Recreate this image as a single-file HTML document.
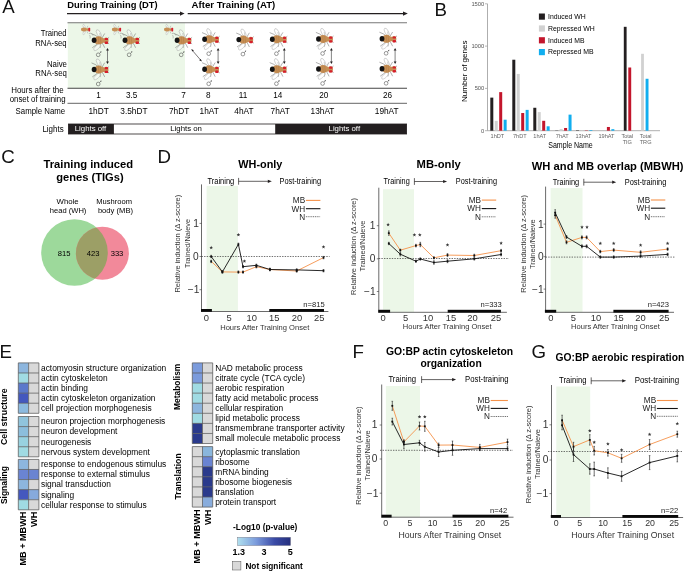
<!DOCTYPE html><html><head><meta charset="utf-8"><style>html,body{margin:0;padding:0;background:#fff}body{width:685px;height:571px;overflow:hidden}svg{display:block;will-change:transform}text{font-family:"Liberation Sans",sans-serif}</style></head><body>
<svg width="685" height="571" viewBox="0 0 685 571">
<defs>
<g id="fly">
  <g stroke="#3a3a3a" stroke-width="0.4" fill="none">
    <path d="M4,-3 L1.2,-5.0 L-2.6,-6.6"/><path d="M8,-2.4 L9.5,-5.0 L10.6,-6.8"/>
    <path d="M4,3 L1.2,5.3 L-1.8,7.4"/><path d="M8,2.6 L9.5,5.2 L10.6,7.4"/>
    <path d="M6.2,-3.4 L5.6,-7.2"/><path d="M6.2,3.6 L6.0,7.6"/>
    <path d="M13.6,-1.8 L15.0,-3.0"/><path d="M13.6,2.4 L15.0,3.6"/>
  </g>
  <ellipse cx="4.75" cy="-6.75" rx="4.3" ry="1.8" transform="rotate(-118 4.75 -6.75)" fill="#fff" fill-opacity="0.4" stroke="#9a9a9a" stroke-width="0.4"/>
  <ellipse cx="3.2" cy="6.9" rx="4.5" ry="1.8" transform="rotate(138 3.2 6.9)" fill="#fff" fill-opacity="0.4" stroke="#9a9a9a" stroke-width="0.4"/>
  <ellipse cx="4.6" cy="0" rx="4.6" ry="4.0" fill="#c68f55"/>
  <ellipse cx="8.6" cy="0.2" rx="2.3" ry="2.6" fill="#c68f55"/>
  <ellipse cx="12.0" cy="0.3" rx="2.4" ry="3.1" fill="#c68f55"/>
  <path d="M4.2,-3.6 L4.8,3.6 M6.2,-3.2 L6.8,3.2" stroke="#a87038" stroke-width="0.5" opacity="0.7"/>
  <rect x="10.6" y="-2.4" width="3.4" height="2.2" rx="0.9" fill="#d61f2c"/>
  <rect x="10.6" y="1.2" width="3.4" height="2.4" rx="0.9" fill="#d61f2c"/>
  <ellipse cx="0" cy="0" rx="2.4" ry="2.7" fill="#141414"/>
  <g stroke="#4a4a4a" stroke-width="0.55" fill="none">
    <circle cx="4.1" cy="14.5" r="1.85"/><path d="M5.4,13.1 L6.8,11.7"/>
  </g>
  <path d="M7.4,11.0 L5.9,11.4 L7.0,12.5 Z" fill="#4a4a4a"/>
</g>
<path id="star" d="M0.00,-1.70 L0.50,-0.49 L1.81,-0.39 L0.81,0.46 L1.12,1.74 L0.00,1.05 L-1.12,1.74 L-0.81,0.46 L-1.81,-0.39 L-0.50,-0.49 Z" fill="#3a3a3a"/>
<g id="ffly">
  <path d="M-5.2,-6.6 C-3.8,-7.8 -2.1,-6.9 -1.0,-4.6 M-4.6,-5.4 C-4.0,-4.2 -3.7,-3.2 -4.1,-1.9" stroke="#777" stroke-width="0.45" fill="none"/>
  <g stroke="#666" stroke-width="0.3" fill="none">
    <path d="M-9,-12.2 L-11,-14.2 M-7.2,-12.3 L-6.2,-14.5 M-9,-9.3 L-11,-7.6 M-7.2,-9.2 L-6.2,-6.8"/>
  </g>
  <ellipse cx="-10" cy="-13.8" rx="2.2" ry="0.9" transform="rotate(-110 -10 -13.8)" fill="#fff" fill-opacity="0.75" stroke="#999" stroke-width="0.3"/>
  <ellipse cx="-10" cy="-7.6" rx="2.2" ry="0.9" transform="rotate(110 -10 -7.6)" fill="#fff" fill-opacity="0.75" stroke="#999" stroke-width="0.3"/>
  <ellipse cx="-10.1" cy="-10.8" rx="3.0" ry="1.9" fill="#c68f55"/>
  <ellipse cx="-6.5" cy="-10.7" rx="1.3" ry="1.3" fill="#c68f55"/>
  <rect x="-5.8" y="-12.5" width="1.9" height="3.6" rx="0.6" fill="#d61f2c"/>
</g>
</defs>
<rect width="685" height="571" fill="#fff"/>
<text x="2.26" y="12.80" font-size="18.7" fill="#111">A</text>
<text x="67.20" y="7.80" font-size="9.5" font-weight="bold" textLength="90.50" lengthAdjust="spacingAndGlyphs">During Training (DT)</text>
<text x="191.60" y="7.80" font-size="9.5" font-weight="bold" textLength="83.70" lengthAdjust="spacingAndGlyphs">After Training (AT)</text>
<line x1="67.00" y1="13.60" x2="181.00" y2="13.60" stroke="#231f20" stroke-width="1.3"/>
<path d="M180,11.4 L184.6,13.6 L180,15.8 Z" fill="#231f20"/>
<line x1="187.70" y1="13.60" x2="404.00" y2="13.60" stroke="#231f20" stroke-width="1.3"/>
<path d="M403,11.4 L407.8,13.6 L403,15.8 Z" fill="#231f20"/>
<rect x="67.80" y="22.50" width="117.20" height="65.70" fill="#ecf7e8"/>
<line x1="67.50" y1="22.80" x2="407.00" y2="22.80" stroke="#777" stroke-width="1.1"/>
<line x1="67.50" y1="88.30" x2="407.00" y2="88.30" stroke="#444" stroke-width="1.1"/>
<line x1="67.50" y1="103.30" x2="407.00" y2="103.30" stroke="#666" stroke-width="1"/>
<text x="40.80" y="36.00" font-size="8.3" textLength="25.80" lengthAdjust="spacingAndGlyphs">Trained</text>
<text x="35.30" y="45.60" font-size="8.3" textLength="31.30" lengthAdjust="spacingAndGlyphs">RNA-seq</text>
<text x="46.90" y="66.90" font-size="8.3" textLength="20.00" lengthAdjust="spacingAndGlyphs">Naive</text>
<text x="35.30" y="76.10" font-size="8.3" textLength="31.60" lengthAdjust="spacingAndGlyphs">RNA-seq</text>
<text x="11.20" y="92.50" font-size="8.3" textLength="52.50" lengthAdjust="spacingAndGlyphs">Hours after the</text>
<text x="9.70" y="101.50" font-size="8.3" textLength="55.90" lengthAdjust="spacingAndGlyphs">onset of training</text>
<text x="15.60" y="114.30" font-size="8.3" textLength="49.60" lengthAdjust="spacingAndGlyphs">Sample Name</text>
<text x="42.40" y="131.70" font-size="8.3" textLength="21.30" lengthAdjust="spacingAndGlyphs">Lights</text>
<text x="98.60" y="97.60" font-size="8.2" text-anchor="middle">1</text>
<text x="131.70" y="97.60" font-size="8.2" text-anchor="middle">3.5</text>
<text x="183.50" y="97.60" font-size="8.2" text-anchor="middle">7</text>
<text x="208.40" y="97.60" font-size="8.2" text-anchor="middle">8</text>
<text x="243.10" y="97.60" font-size="8.2" text-anchor="middle">11</text>
<text x="277.80" y="97.60" font-size="8.2" text-anchor="middle">14</text>
<text x="323.80" y="97.60" font-size="8.2" text-anchor="middle">20</text>
<text x="387.60" y="97.60" font-size="8.2" text-anchor="middle">26</text>
<text x="98.65" y="114.00" font-size="8.3" text-anchor="middle">1hDT</text>
<text x="133.95" y="114.00" font-size="8.3" text-anchor="middle">3.5hDT</text>
<text x="179.15" y="114.00" font-size="8.3" text-anchor="middle">7hDT</text>
<text x="209.15" y="114.00" font-size="8.3" text-anchor="middle">1hAT</text>
<text x="243.90" y="114.00" font-size="8.3" text-anchor="middle">4hAT</text>
<text x="280.20" y="114.00" font-size="8.3" text-anchor="middle">7hAT</text>
<text x="322.50" y="114.00" font-size="8.3" text-anchor="middle">13hAT</text>
<text x="386.70" y="114.00" font-size="8.3" text-anchor="middle">19hAT</text>
<rect x="68.40" y="124.00" width="338.20" height="10.00" fill="#fff" stroke="#231f20" stroke-width="0.8"/>
<rect x="68.40" y="124.00" width="45.50" height="10.00" fill="#231f20"/>
<rect x="275.20" y="124.00" width="131.40" height="10.00" fill="#231f20"/>
<text x="90.50" y="130.70" font-size="7.8" fill="#fff" text-anchor="middle">Lights off</text>
<text x="186.10" y="130.70" font-size="7.8" text-anchor="middle">Lights on</text>
<text x="344.30" y="130.70" font-size="7.8" fill="#fff" text-anchor="middle">Lights off</text>
<use href="#fly" x="94.10" y="40.30"/>
<use href="#fly" x="125.00" y="40.30"/>
<use href="#fly" x="177.10" y="40.30"/>
<use href="#fly" x="204.60" y="39.20"/>
<use href="#fly" x="238.80" y="39.60"/>
<use href="#fly" x="272.30" y="39.20"/>
<use href="#fly" x="318.50" y="39.00"/>
<use href="#fly" x="382.00" y="38.80"/>
<use href="#fly" x="94.10" y="69.50"/>
<use href="#fly" x="204.60" y="69.30"/>
<use href="#fly" x="272.30" y="69.20"/>
<use href="#fly" x="318.50" y="69.00"/>
<use href="#fly" x="382.00" y="68.80"/>
<use href="#ffly" x="94.10" y="40.30"/>
<use href="#ffly" x="125.00" y="40.30"/>
<use href="#ffly" x="177.10" y="40.30"/>
<line x1="107.50" y1="50.00" x2="107.50" y2="62.00" stroke="#666" stroke-width="0.8"/>
<path d="M106.10,50.6 L107.50,48 L108.90,50.6 Z M106.10,61.4 L107.50,64 L108.90,61.4 Z" fill="#231f20"/>
<line x1="218.10" y1="50.00" x2="218.10" y2="62.00" stroke="#666" stroke-width="0.8"/>
<path d="M216.70,50.6 L218.10,48 L219.50,50.6 Z M216.70,61.4 L218.10,64 L219.50,61.4 Z" fill="#231f20"/>
<line x1="284.30" y1="50.00" x2="284.30" y2="62.00" stroke="#666" stroke-width="0.8"/>
<path d="M282.90,50.6 L284.30,48 L285.70,50.6 Z M282.90,61.4 L284.30,64 L285.70,61.4 Z" fill="#231f20"/>
<line x1="331.40" y1="50.00" x2="331.40" y2="62.00" stroke="#666" stroke-width="0.8"/>
<path d="M330.00,50.6 L331.40,48 L332.80,50.6 Z M330.00,61.4 L331.40,64 L332.80,61.4 Z" fill="#231f20"/>
<line x1="395.10" y1="50.00" x2="395.10" y2="62.00" stroke="#666" stroke-width="0.8"/>
<path d="M393.70,50.6 L395.10,48 L396.50,50.6 Z M393.70,61.4 L395.10,64 L396.50,61.4 Z" fill="#231f20"/>
<line x1="192.00" y1="50.00" x2="201.00" y2="60.50" stroke="#231f20" stroke-width="0.6"/>
<path d="M191.2,49.0 L193.9,50.3 L192.4,51.6 Z M201.9,61.5 L199.2,60.2 L200.7,58.9 Z" fill="#231f20"/>
<text x="434.50" y="15.90" font-size="18.7" fill="#111">B</text>
<line x1="487.50" y1="3.80" x2="487.50" y2="130.70" stroke="#999" stroke-width="0.8"/>
<line x1="487.50" y1="130.70" x2="660.00" y2="130.70" stroke="#999" stroke-width="0.8"/>
<line x1="485.00" y1="130.70" x2="487.50" y2="130.70" stroke="#999" stroke-width="0.7"/>
<text x="484.30" y="132.70" font-size="5.8" fill="#555" text-anchor="end">0</text>
<line x1="485.00" y1="88.40" x2="487.50" y2="88.40" stroke="#999" stroke-width="0.7"/>
<text x="484.30" y="90.40" font-size="5.8" fill="#555" text-anchor="end">500</text>
<line x1="485.00" y1="46.10" x2="487.50" y2="46.10" stroke="#999" stroke-width="0.7"/>
<text x="484.30" y="48.10" font-size="5.8" fill="#555" text-anchor="end">1000</text>
<line x1="485.00" y1="3.80" x2="487.50" y2="3.80" stroke="#999" stroke-width="0.7"/>
<text x="484.30" y="5.80" font-size="5.8" fill="#555" text-anchor="end">1500</text>
<text transform="translate(466.60,71.30) rotate(-90)" font-size="8.0" text-anchor="middle" textLength="61.50" lengthAdjust="spacingAndGlyphs">Number of genes</text>
<rect x="490.30" y="97.62" width="3.00" height="33.08" fill="#231f20"/>
<rect x="494.75" y="120.89" width="3.00" height="9.81" fill="#d1d1d1"/>
<rect x="499.20" y="92.12" width="3.00" height="38.58" fill="#c3162c"/>
<rect x="503.65" y="119.70" width="3.00" height="11.00" fill="#11aeef"/>
<rect x="512.30" y="59.72" width="3.00" height="70.98" fill="#231f20"/>
<rect x="516.75" y="73.93" width="3.00" height="56.77" fill="#d1d1d1"/>
<rect x="521.20" y="113.02" width="3.00" height="17.68" fill="#c3162c"/>
<rect x="525.65" y="109.89" width="3.00" height="20.81" fill="#11aeef"/>
<rect x="533.30" y="107.77" width="3.00" height="22.93" fill="#231f20"/>
<rect x="537.75" y="112.09" width="3.00" height="18.61" fill="#d1d1d1"/>
<rect x="542.20" y="120.80" width="3.00" height="9.90" fill="#c3162c"/>
<rect x="546.65" y="126.30" width="3.00" height="4.40" fill="#11aeef"/>
<rect x="555.20" y="130.45" width="3.00" height="0.25" fill="#231f20"/>
<rect x="559.65" y="129.09" width="3.00" height="1.61" fill="#d1d1d1"/>
<rect x="564.10" y="127.99" width="3.00" height="2.71" fill="#c3162c"/>
<rect x="568.55" y="114.63" width="3.00" height="16.07" fill="#11aeef"/>
<rect x="576.00" y="130.28" width="3.00" height="0.42" fill="#231f20"/>
<rect x="580.45" y="130.28" width="3.00" height="0.42" fill="#d1d1d1"/>
<rect x="584.90" y="130.36" width="3.00" height="0.34" fill="#c3162c"/>
<rect x="589.35" y="130.02" width="3.00" height="0.68" fill="#11aeef"/>
<rect x="606.90" y="126.98" width="3.00" height="3.72" fill="#c3162c"/>
<rect x="611.35" y="129.18" width="3.00" height="1.52" fill="#11aeef"/>
<rect x="623.80" y="26.81" width="2.80" height="103.89" fill="#231f20"/>
<rect x="628.30" y="67.50" width="2.90" height="63.20" fill="#c3162c"/>
<rect x="641.10" y="53.80" width="2.80" height="76.90" fill="#d1d1d1"/>
<rect x="645.60" y="78.76" width="2.90" height="51.94" fill="#11aeef"/>
<text x="497.40" y="138.00" font-size="5.6" fill="#666" text-anchor="middle">1hDT</text>
<text x="519.80" y="138.00" font-size="5.6" fill="#666" text-anchor="middle">7hDT</text>
<text x="539.80" y="138.00" font-size="5.6" fill="#666" text-anchor="middle">1hAT</text>
<text x="562.30" y="138.00" font-size="5.6" fill="#666" text-anchor="middle">7hAT</text>
<text x="583.50" y="138.00" font-size="5.6" fill="#666" text-anchor="middle">13hAT</text>
<text x="606.50" y="138.00" font-size="5.6" fill="#666" text-anchor="middle">19hAT</text>
<text x="627.30" y="138.00" font-size="5.6" fill="#666" text-anchor="middle">Total</text>
<text x="627.30" y="143.60" font-size="5.6" fill="#666" text-anchor="middle">TIG</text>
<text x="645.60" y="138.00" font-size="5.6" fill="#666" text-anchor="middle">Total</text>
<text x="645.60" y="143.60" font-size="5.6" fill="#666" text-anchor="middle">TRG</text>
<text x="548.20" y="148.40" font-size="8.3" textLength="44.60" lengthAdjust="spacingAndGlyphs">Sample Name</text>
<rect x="538.90" y="13.50" width="6.00" height="6.20" fill="#231f20"/>
<text x="548.00" y="18.90" font-size="7.0" textLength="37.80" lengthAdjust="spacingAndGlyphs">Induced WH</text>
<rect x="538.90" y="25.40" width="6.00" height="6.20" fill="#d1d1d1"/>
<text x="548.00" y="30.80" font-size="7.0" textLength="46.80" lengthAdjust="spacingAndGlyphs">Repressed WH</text>
<rect x="538.90" y="37.20" width="6.00" height="6.20" fill="#c3162c"/>
<text x="548.00" y="42.60" font-size="7.0" textLength="36.50" lengthAdjust="spacingAndGlyphs">Induced MB</text>
<rect x="538.90" y="49.00" width="6.00" height="6.20" fill="#11aeef"/>
<text x="548.00" y="54.40" font-size="7.0" textLength="45.70" lengthAdjust="spacingAndGlyphs">Repressed MB</text>
<text x="1.15" y="162.90" font-size="18.7" fill="#111">C</text>
<text x="43.50" y="167.50" font-size="11.0" font-weight="bold" textLength="89.70" lengthAdjust="spacingAndGlyphs">Training induced</text>
<text x="56.20" y="181.40" font-size="11.0" font-weight="bold" textLength="67.40" lengthAdjust="spacingAndGlyphs">genes (TIGs)</text>
<text x="67.60" y="203.80" font-size="7.8" text-anchor="middle">Whole</text>
<text x="49.80" y="213.00" font-size="7.8" textLength="36.60" lengthAdjust="spacingAndGlyphs">head (WH)</text>
<text x="96.30" y="203.80" font-size="7.8" textLength="35.70" lengthAdjust="spacingAndGlyphs">Mushroom</text>
<text x="97.90" y="213.00" font-size="7.8" textLength="35.10" lengthAdjust="spacingAndGlyphs">body (MB)</text>
<circle cx="74.5" cy="252.5" r="33.3" fill="#9dd99b"/>
<circle cx="102.4" cy="253.2" r="26.5" fill="#f2899a"/>
<clipPath id="cg"><circle cx="74.5" cy="252.5" r="33.3"/></clipPath>
<circle cx="102.4" cy="253.2" r="26.5" fill="#9c9f66" clip-path="url(#cg)"/>
<text x="64.10" y="255.50" font-size="7.6" text-anchor="middle">815</text>
<text x="93.20" y="255.50" font-size="7.6" text-anchor="middle">423</text>
<text x="117.00" y="255.50" font-size="7.6" text-anchor="middle">333</text>
<text x="157.50" y="162.90" font-size="18.7" fill="#111">D</text>
<text x="352.50" y="358.10" font-size="18.7" fill="#111">F</text>
<text x="531.50" y="358.10" font-size="18.7" fill="#111">G</text>
<rect x="206.60" y="185.90" width="31.30" height="125.60" fill="#ecf7e8"/>
<text x="238.30" y="168.10" font-size="11.0" font-weight="bold" textLength="44.10" lengthAdjust="spacingAndGlyphs">WH-only</text>
<text x="207.40" y="183.90" font-size="8.6" textLength="26.90" lengthAdjust="spacingAndGlyphs">Training</text>
<line x1="238.60" y1="177.90" x2="238.60" y2="184.70" stroke="#231f20" stroke-width="0.7"/>
<line x1="238.60" y1="181.30" x2="268.80" y2="181.30" stroke="#231f20" stroke-width="0.7"/>
<path d="M267.80,179.70 L271.80,181.30 L267.80,182.90 Z" fill="#231f20"/>
<text x="279.50" y="183.90" font-size="8.6" textLength="41.60" lengthAdjust="spacingAndGlyphs">Post-training</text>
<line x1="201.50" y1="184.40" x2="201.50" y2="312.00" stroke="#6a6a6a" stroke-width="1.0"/>
<line x1="201.50" y1="311.50" x2="328.40" y2="311.50" stroke="#6a6a6a" stroke-width="1.0"/>
<rect x="201.00" y="309.00" width="10.90" height="2.80" fill="#0a0a0a"/>
<rect x="269.30" y="309.00" width="54.70" height="2.80" fill="#0a0a0a"/>
<text x="196.00" y="226.80" font-size="10.2" fill="#333" text-anchor="middle">1</text>
<text x="195.90" y="259.90" font-size="10.2" fill="#333" text-anchor="middle">0</text>
<text x="193.60" y="293.10" font-size="10.2" fill="#333" text-anchor="middle">−1</text>
<line x1="199.50" y1="223.40" x2="201.50" y2="223.40" stroke="#333" stroke-width="0.6"/>
<line x1="199.50" y1="256.50" x2="201.50" y2="256.50" stroke="#333" stroke-width="0.6"/>
<line x1="199.50" y1="289.70" x2="201.50" y2="289.70" stroke="#333" stroke-width="0.6"/>
<text transform="translate(180.30,243.70) rotate(-90)" font-size="7.4" fill="#333" text-anchor="middle" textLength="97.80" lengthAdjust="spacingAndGlyphs">Relative induction (Δ z-score)</text>
<text transform="translate(190.00,243.50) rotate(-90)" font-size="7.4" fill="#333" text-anchor="middle" textLength="49.00" lengthAdjust="spacingAndGlyphs">Trained/Naieve</text>
<text x="206.40" y="320.80" font-size="9.4" fill="#333" text-anchor="middle">0</text>
<text x="229.00" y="320.80" font-size="9.4" fill="#333" text-anchor="middle">5</text>
<text x="251.70" y="320.80" font-size="9.4" fill="#333" text-anchor="middle">10</text>
<text x="274.30" y="320.80" font-size="9.4" fill="#333" text-anchor="middle">15</text>
<text x="296.90" y="320.80" font-size="9.4" fill="#333" text-anchor="middle">20</text>
<text x="319.20" y="320.80" font-size="9.4" fill="#333" text-anchor="middle">25</text>
<text x="220.20" y="329.60" font-size="7.5" fill="#333" textLength="89.10" lengthAdjust="spacingAndGlyphs">Hours After Training Onset</text>
<text x="324.70" y="307.20" font-size="7.6" fill="#222" text-anchor="end">n=815</text>
<line x1="201.50" y1="256.50" x2="329.60" y2="256.50" stroke="#333" stroke-width="0.7" stroke-dasharray="1.4 1.2"/>
<text x="305.10" y="203.20" font-size="8.2" fill="#222" text-anchor="end">MB</text>
<line x1="305.90" y1="200.40" x2="320.40" y2="200.40" stroke="#f5924a" stroke-width="1.1"/>
<text x="305.10" y="211.50" font-size="8.2" fill="#222" text-anchor="end">WH</text>
<line x1="305.90" y1="208.70" x2="320.40" y2="208.70" stroke="#111" stroke-width="1.1"/>
<text x="305.10" y="219.50" font-size="8.2" fill="#222" text-anchor="end">N</text>
<line x1="305.90" y1="216.70" x2="320.40" y2="216.70" stroke="#222" stroke-width="0.7" stroke-dasharray="1 0.8"/>
<polyline points="211.20,261.40 222.40,271.90 238.40,272.10 243.00,272.10 256.40,266.70 269.90,269.50 296.70,271.00 323.50,257.60" fill="none" stroke="#f5924a" stroke-width="0.9"/>
<polyline points="211.20,256.50 222.40,271.90 238.40,244.30 243.00,266.70 256.40,265.30 269.90,269.50 296.70,269.90 323.50,270.70" fill="none" stroke="#111" stroke-width="0.9"/>
<line x1="211.20" y1="260.20" x2="211.20" y2="262.60" stroke="#111" stroke-width="0.6"/>
<line x1="210.40" y1="260.20" x2="212.00" y2="260.20" stroke="#111" stroke-width="0.5"/>
<line x1="210.40" y1="262.60" x2="212.00" y2="262.60" stroke="#111" stroke-width="0.5"/>
<rect x="210.30" y="260.50" width="1.80" height="1.80" fill="#111"/>
<line x1="222.40" y1="270.70" x2="222.40" y2="273.10" stroke="#111" stroke-width="0.6"/>
<line x1="221.60" y1="270.70" x2="223.20" y2="270.70" stroke="#111" stroke-width="0.5"/>
<line x1="221.60" y1="273.10" x2="223.20" y2="273.10" stroke="#111" stroke-width="0.5"/>
<rect x="221.50" y="271.00" width="1.80" height="1.80" fill="#111"/>
<line x1="238.40" y1="270.90" x2="238.40" y2="273.30" stroke="#111" stroke-width="0.6"/>
<line x1="237.60" y1="270.90" x2="239.20" y2="270.90" stroke="#111" stroke-width="0.5"/>
<line x1="237.60" y1="273.30" x2="239.20" y2="273.30" stroke="#111" stroke-width="0.5"/>
<rect x="237.50" y="271.20" width="1.80" height="1.80" fill="#111"/>
<line x1="243.00" y1="270.90" x2="243.00" y2="273.30" stroke="#111" stroke-width="0.6"/>
<line x1="242.20" y1="270.90" x2="243.80" y2="270.90" stroke="#111" stroke-width="0.5"/>
<line x1="242.20" y1="273.30" x2="243.80" y2="273.30" stroke="#111" stroke-width="0.5"/>
<rect x="242.10" y="271.20" width="1.80" height="1.80" fill="#111"/>
<line x1="256.40" y1="265.50" x2="256.40" y2="267.90" stroke="#111" stroke-width="0.6"/>
<line x1="255.60" y1="265.50" x2="257.20" y2="265.50" stroke="#111" stroke-width="0.5"/>
<line x1="255.60" y1="267.90" x2="257.20" y2="267.90" stroke="#111" stroke-width="0.5"/>
<rect x="255.50" y="265.80" width="1.80" height="1.80" fill="#111"/>
<line x1="269.90" y1="268.30" x2="269.90" y2="270.70" stroke="#111" stroke-width="0.6"/>
<line x1="269.10" y1="268.30" x2="270.70" y2="268.30" stroke="#111" stroke-width="0.5"/>
<line x1="269.10" y1="270.70" x2="270.70" y2="270.70" stroke="#111" stroke-width="0.5"/>
<rect x="269.00" y="268.60" width="1.80" height="1.80" fill="#111"/>
<line x1="296.70" y1="269.80" x2="296.70" y2="272.20" stroke="#111" stroke-width="0.6"/>
<line x1="295.90" y1="269.80" x2="297.50" y2="269.80" stroke="#111" stroke-width="0.5"/>
<line x1="295.90" y1="272.20" x2="297.50" y2="272.20" stroke="#111" stroke-width="0.5"/>
<rect x="295.80" y="270.10" width="1.80" height="1.80" fill="#111"/>
<line x1="323.50" y1="256.40" x2="323.50" y2="258.80" stroke="#111" stroke-width="0.6"/>
<line x1="322.70" y1="256.40" x2="324.30" y2="256.40" stroke="#111" stroke-width="0.5"/>
<line x1="322.70" y1="258.80" x2="324.30" y2="258.80" stroke="#111" stroke-width="0.5"/>
<rect x="322.60" y="256.70" width="1.80" height="1.80" fill="#111"/>
<line x1="211.20" y1="255.30" x2="211.20" y2="257.70" stroke="#111" stroke-width="0.6"/>
<line x1="210.40" y1="255.30" x2="212.00" y2="255.30" stroke="#111" stroke-width="0.5"/>
<line x1="210.40" y1="257.70" x2="212.00" y2="257.70" stroke="#111" stroke-width="0.5"/>
<rect x="210.30" y="255.60" width="1.80" height="1.80" fill="#111"/>
<line x1="222.40" y1="270.70" x2="222.40" y2="273.10" stroke="#111" stroke-width="0.6"/>
<line x1="221.60" y1="270.70" x2="223.20" y2="270.70" stroke="#111" stroke-width="0.5"/>
<line x1="221.60" y1="273.10" x2="223.20" y2="273.10" stroke="#111" stroke-width="0.5"/>
<rect x="221.50" y="271.00" width="1.80" height="1.80" fill="#111"/>
<line x1="238.40" y1="243.10" x2="238.40" y2="245.50" stroke="#111" stroke-width="0.6"/>
<line x1="237.60" y1="243.10" x2="239.20" y2="243.10" stroke="#111" stroke-width="0.5"/>
<line x1="237.60" y1="245.50" x2="239.20" y2="245.50" stroke="#111" stroke-width="0.5"/>
<rect x="237.50" y="243.40" width="1.80" height="1.80" fill="#111"/>
<line x1="243.00" y1="265.50" x2="243.00" y2="267.90" stroke="#111" stroke-width="0.6"/>
<line x1="242.20" y1="265.50" x2="243.80" y2="265.50" stroke="#111" stroke-width="0.5"/>
<line x1="242.20" y1="267.90" x2="243.80" y2="267.90" stroke="#111" stroke-width="0.5"/>
<rect x="242.10" y="265.80" width="1.80" height="1.80" fill="#111"/>
<line x1="256.40" y1="264.10" x2="256.40" y2="266.50" stroke="#111" stroke-width="0.6"/>
<line x1="255.60" y1="264.10" x2="257.20" y2="264.10" stroke="#111" stroke-width="0.5"/>
<line x1="255.60" y1="266.50" x2="257.20" y2="266.50" stroke="#111" stroke-width="0.5"/>
<rect x="255.50" y="264.40" width="1.80" height="1.80" fill="#111"/>
<line x1="269.90" y1="268.30" x2="269.90" y2="270.70" stroke="#111" stroke-width="0.6"/>
<line x1="269.10" y1="268.30" x2="270.70" y2="268.30" stroke="#111" stroke-width="0.5"/>
<line x1="269.10" y1="270.70" x2="270.70" y2="270.70" stroke="#111" stroke-width="0.5"/>
<rect x="269.00" y="268.60" width="1.80" height="1.80" fill="#111"/>
<line x1="296.70" y1="268.70" x2="296.70" y2="271.10" stroke="#111" stroke-width="0.6"/>
<line x1="295.90" y1="268.70" x2="297.50" y2="268.70" stroke="#111" stroke-width="0.5"/>
<line x1="295.90" y1="271.10" x2="297.50" y2="271.10" stroke="#111" stroke-width="0.5"/>
<rect x="295.80" y="269.00" width="1.80" height="1.80" fill="#111"/>
<line x1="323.50" y1="269.50" x2="323.50" y2="271.90" stroke="#111" stroke-width="0.6"/>
<line x1="322.70" y1="269.50" x2="324.30" y2="269.50" stroke="#111" stroke-width="0.5"/>
<line x1="322.70" y1="271.90" x2="324.30" y2="271.90" stroke="#111" stroke-width="0.5"/>
<rect x="322.60" y="269.80" width="1.80" height="1.80" fill="#111"/>
<use href="#star" x="211.20" y="247.40"/>
<use href="#star" x="238.40" y="234.60"/>
<use href="#star" x="244.40" y="261.00"/>
<use href="#star" x="323.50" y="246.80"/>
<rect x="383.00" y="189.20" width="31.00" height="123.10" fill="#ecf7e8"/>
<text x="416.60" y="168.00" font-size="11.0" font-weight="bold" textLength="44.20" lengthAdjust="spacingAndGlyphs">MB-only</text>
<text x="383.60" y="184.10" font-size="8.6" textLength="26.10" lengthAdjust="spacingAndGlyphs">Training</text>
<line x1="414.40" y1="178.10" x2="414.40" y2="184.90" stroke="#231f20" stroke-width="0.7"/>
<line x1="414.40" y1="181.50" x2="444.10" y2="181.50" stroke="#231f20" stroke-width="0.7"/>
<path d="M443.10,179.90 L447.10,181.50 L443.10,183.10 Z" fill="#231f20"/>
<text x="455.80" y="184.10" font-size="8.6" textLength="41.20" lengthAdjust="spacingAndGlyphs">Post-training</text>
<line x1="378.80" y1="187.70" x2="378.80" y2="312.80" stroke="#6a6a6a" stroke-width="1.0"/>
<line x1="378.80" y1="312.30" x2="506.90" y2="312.30" stroke="#6a6a6a" stroke-width="1.0"/>
<rect x="378.30" y="309.80" width="11.80" height="2.80" fill="#0a0a0a"/>
<rect x="447.70" y="309.80" width="53.20" height="2.80" fill="#0a0a0a"/>
<text x="372.70" y="229.10" font-size="10.2" fill="#333" text-anchor="middle">1</text>
<text x="372.70" y="262.20" font-size="10.2" fill="#333" text-anchor="middle">0</text>
<text x="369.90" y="294.90" font-size="10.2" fill="#333" text-anchor="middle">−1</text>
<line x1="376.80" y1="225.70" x2="378.80" y2="225.70" stroke="#333" stroke-width="0.6"/>
<line x1="376.80" y1="258.80" x2="378.80" y2="258.80" stroke="#333" stroke-width="0.6"/>
<line x1="376.80" y1="291.50" x2="378.80" y2="291.50" stroke="#333" stroke-width="0.6"/>
<text transform="translate(355.90,246.50) rotate(-90)" font-size="7.4" fill="#333" text-anchor="middle" textLength="97.00" lengthAdjust="spacingAndGlyphs">Relative induction (Δ z-score)</text>
<text transform="translate(365.30,246.00) rotate(-90)" font-size="7.4" fill="#333" text-anchor="middle" textLength="50.90" lengthAdjust="spacingAndGlyphs">Trained/Naieve</text>
<text x="383.10" y="320.90" font-size="9.4" fill="#333" text-anchor="middle">0</text>
<text x="405.70" y="320.90" font-size="9.4" fill="#333" text-anchor="middle">5</text>
<text x="428.00" y="320.90" font-size="9.4" fill="#333" text-anchor="middle">10</text>
<text x="451.00" y="320.90" font-size="9.4" fill="#333" text-anchor="middle">15</text>
<text x="472.50" y="320.90" font-size="9.4" fill="#333" text-anchor="middle">20</text>
<text x="495.90" y="320.90" font-size="9.4" fill="#333" text-anchor="middle">25</text>
<text x="402.80" y="329.30" font-size="7.5" fill="#333" textLength="88.70" lengthAdjust="spacingAndGlyphs">Hours After Training Onset</text>
<text x="501.80" y="307.40" font-size="7.6" fill="#222" text-anchor="end">n=333</text>
<line x1="378.80" y1="258.50" x2="509.00" y2="258.50" stroke="#333" stroke-width="0.7" stroke-dasharray="1.4 1.2"/>
<text x="481.00" y="202.90" font-size="8.2" fill="#222" text-anchor="end">MB</text>
<line x1="481.80" y1="200.10" x2="496.20" y2="200.10" stroke="#f5924a" stroke-width="1.1"/>
<text x="481.00" y="211.40" font-size="8.2" fill="#222" text-anchor="end">WH</text>
<line x1="481.80" y1="208.60" x2="496.20" y2="208.60" stroke="#111" stroke-width="1.1"/>
<text x="481.00" y="219.60" font-size="8.2" fill="#222" text-anchor="end">N</text>
<line x1="481.80" y1="216.80" x2="496.20" y2="216.80" stroke="#222" stroke-width="0.7" stroke-dasharray="1 0.8"/>
<polyline points="388.80,233.10 400.30,250.20 415.90,245.60 420.30,244.50 433.90,257.80 447.50,255.10 474.30,255.50 501.10,250.70" fill="none" stroke="#f5924a" stroke-width="0.9"/>
<polyline points="388.80,243.50 400.30,254.20 415.90,261.20 420.30,259.00 433.90,262.50 447.50,261.20 474.30,258.80 501.10,254.50" fill="none" stroke="#111" stroke-width="0.9"/>
<line x1="388.80" y1="230.90" x2="388.80" y2="235.30" stroke="#111" stroke-width="0.6"/>
<line x1="388.00" y1="230.90" x2="389.60" y2="230.90" stroke="#111" stroke-width="0.5"/>
<line x1="388.00" y1="235.30" x2="389.60" y2="235.30" stroke="#111" stroke-width="0.5"/>
<rect x="387.90" y="232.20" width="1.80" height="1.80" fill="#111"/>
<line x1="400.30" y1="249.10" x2="400.30" y2="251.30" stroke="#111" stroke-width="0.6"/>
<line x1="399.50" y1="249.10" x2="401.10" y2="249.10" stroke="#111" stroke-width="0.5"/>
<line x1="399.50" y1="251.30" x2="401.10" y2="251.30" stroke="#111" stroke-width="0.5"/>
<rect x="399.40" y="249.30" width="1.80" height="1.80" fill="#111"/>
<line x1="415.90" y1="244.30" x2="415.90" y2="246.90" stroke="#111" stroke-width="0.6"/>
<line x1="415.10" y1="244.30" x2="416.70" y2="244.30" stroke="#111" stroke-width="0.5"/>
<line x1="415.10" y1="246.90" x2="416.70" y2="246.90" stroke="#111" stroke-width="0.5"/>
<rect x="415.00" y="244.70" width="1.80" height="1.80" fill="#111"/>
<line x1="420.30" y1="242.30" x2="420.30" y2="246.70" stroke="#111" stroke-width="0.6"/>
<line x1="419.50" y1="242.30" x2="421.10" y2="242.30" stroke="#111" stroke-width="0.5"/>
<line x1="419.50" y1="246.70" x2="421.10" y2="246.70" stroke="#111" stroke-width="0.5"/>
<rect x="419.40" y="243.60" width="1.80" height="1.80" fill="#111"/>
<line x1="433.90" y1="256.70" x2="433.90" y2="258.90" stroke="#111" stroke-width="0.6"/>
<line x1="433.10" y1="256.70" x2="434.70" y2="256.70" stroke="#111" stroke-width="0.5"/>
<line x1="433.10" y1="258.90" x2="434.70" y2="258.90" stroke="#111" stroke-width="0.5"/>
<rect x="433.00" y="256.90" width="1.80" height="1.80" fill="#111"/>
<line x1="447.50" y1="253.60" x2="447.50" y2="256.60" stroke="#111" stroke-width="0.6"/>
<line x1="446.70" y1="253.60" x2="448.30" y2="253.60" stroke="#111" stroke-width="0.5"/>
<line x1="446.70" y1="256.60" x2="448.30" y2="256.60" stroke="#111" stroke-width="0.5"/>
<rect x="446.60" y="254.20" width="1.80" height="1.80" fill="#111"/>
<line x1="474.30" y1="254.20" x2="474.30" y2="256.80" stroke="#111" stroke-width="0.6"/>
<line x1="473.50" y1="254.20" x2="475.10" y2="254.20" stroke="#111" stroke-width="0.5"/>
<line x1="473.50" y1="256.80" x2="475.10" y2="256.80" stroke="#111" stroke-width="0.5"/>
<rect x="473.40" y="254.60" width="1.80" height="1.80" fill="#111"/>
<line x1="501.10" y1="249.40" x2="501.10" y2="252.00" stroke="#111" stroke-width="0.6"/>
<line x1="500.30" y1="249.40" x2="501.90" y2="249.40" stroke="#111" stroke-width="0.5"/>
<line x1="500.30" y1="252.00" x2="501.90" y2="252.00" stroke="#111" stroke-width="0.5"/>
<rect x="500.20" y="249.80" width="1.80" height="1.80" fill="#111"/>
<line x1="388.80" y1="242.30" x2="388.80" y2="244.70" stroke="#111" stroke-width="0.6"/>
<line x1="388.00" y1="242.30" x2="389.60" y2="242.30" stroke="#111" stroke-width="0.5"/>
<line x1="388.00" y1="244.70" x2="389.60" y2="244.70" stroke="#111" stroke-width="0.5"/>
<rect x="387.90" y="242.60" width="1.80" height="1.80" fill="#111"/>
<line x1="400.30" y1="252.45" x2="400.30" y2="255.95" stroke="#111" stroke-width="0.6"/>
<line x1="399.50" y1="252.45" x2="401.10" y2="252.45" stroke="#111" stroke-width="0.5"/>
<line x1="399.50" y1="255.95" x2="401.10" y2="255.95" stroke="#111" stroke-width="0.5"/>
<rect x="399.40" y="253.30" width="1.80" height="1.80" fill="#111"/>
<line x1="415.90" y1="260.00" x2="415.90" y2="262.40" stroke="#111" stroke-width="0.6"/>
<line x1="415.10" y1="260.00" x2="416.70" y2="260.00" stroke="#111" stroke-width="0.5"/>
<line x1="415.10" y1="262.40" x2="416.70" y2="262.40" stroke="#111" stroke-width="0.5"/>
<rect x="415.00" y="260.30" width="1.80" height="1.80" fill="#111"/>
<line x1="420.30" y1="257.80" x2="420.30" y2="260.20" stroke="#111" stroke-width="0.6"/>
<line x1="419.50" y1="257.80" x2="421.10" y2="257.80" stroke="#111" stroke-width="0.5"/>
<line x1="419.50" y1="260.20" x2="421.10" y2="260.20" stroke="#111" stroke-width="0.5"/>
<rect x="419.40" y="258.10" width="1.80" height="1.80" fill="#111"/>
<line x1="433.90" y1="260.75" x2="433.90" y2="264.25" stroke="#111" stroke-width="0.6"/>
<line x1="433.10" y1="260.75" x2="434.70" y2="260.75" stroke="#111" stroke-width="0.5"/>
<line x1="433.10" y1="264.25" x2="434.70" y2="264.25" stroke="#111" stroke-width="0.5"/>
<rect x="433.00" y="261.60" width="1.80" height="1.80" fill="#111"/>
<line x1="447.50" y1="259.70" x2="447.50" y2="262.70" stroke="#111" stroke-width="0.6"/>
<line x1="446.70" y1="259.70" x2="448.30" y2="259.70" stroke="#111" stroke-width="0.5"/>
<line x1="446.70" y1="262.70" x2="448.30" y2="262.70" stroke="#111" stroke-width="0.5"/>
<rect x="446.60" y="260.30" width="1.80" height="1.80" fill="#111"/>
<line x1="474.30" y1="257.50" x2="474.30" y2="260.10" stroke="#111" stroke-width="0.6"/>
<line x1="473.50" y1="257.50" x2="475.10" y2="257.50" stroke="#111" stroke-width="0.5"/>
<line x1="473.50" y1="260.10" x2="475.10" y2="260.10" stroke="#111" stroke-width="0.5"/>
<rect x="473.40" y="257.90" width="1.80" height="1.80" fill="#111"/>
<line x1="501.10" y1="253.20" x2="501.10" y2="255.80" stroke="#111" stroke-width="0.6"/>
<line x1="500.30" y1="253.20" x2="501.90" y2="253.20" stroke="#111" stroke-width="0.5"/>
<line x1="500.30" y1="255.80" x2="501.90" y2="255.80" stroke="#111" stroke-width="0.5"/>
<rect x="500.20" y="253.60" width="1.80" height="1.80" fill="#111"/>
<use href="#star" x="388.10" y="224.40"/>
<use href="#star" x="414.40" y="234.70"/>
<use href="#star" x="419.80" y="234.70"/>
<use href="#star" x="447.50" y="244.80"/>
<use href="#star" x="501.10" y="242.90"/>
<rect x="550.60" y="188.10" width="31.90" height="124.20" fill="#ecf7e8"/>
<text x="531.80" y="170.00" font-size="11.0" font-weight="bold" textLength="151.80" lengthAdjust="spacingAndGlyphs">WH and MB overlap (MBWH)</text>
<text x="552.70" y="184.80" font-size="8.6" textLength="26.50" lengthAdjust="spacingAndGlyphs">Training</text>
<line x1="583.80" y1="178.80" x2="583.80" y2="185.60" stroke="#231f20" stroke-width="0.7"/>
<line x1="583.80" y1="182.20" x2="613.20" y2="182.20" stroke="#231f20" stroke-width="0.7"/>
<path d="M612.20,180.60 L616.20,182.20 L612.20,183.80 Z" fill="#231f20"/>
<text x="624.70" y="184.80" font-size="8.6" textLength="41.70" lengthAdjust="spacingAndGlyphs">Post-training</text>
<line x1="545.60" y1="186.60" x2="545.60" y2="312.80" stroke="#6a6a6a" stroke-width="1.0"/>
<line x1="545.60" y1="312.30" x2="674.00" y2="312.30" stroke="#6a6a6a" stroke-width="1.0"/>
<rect x="544.90" y="309.80" width="11.30" height="2.80" fill="#0a0a0a"/>
<rect x="613.40" y="309.80" width="55.20" height="2.80" fill="#0a0a0a"/>
<text x="540.80" y="227.50" font-size="10.2" fill="#333" text-anchor="middle">1</text>
<text x="540.80" y="260.10" font-size="10.2" fill="#333" text-anchor="middle">0</text>
<text x="537.90" y="292.50" font-size="10.2" fill="#333" text-anchor="middle">−1</text>
<line x1="543.60" y1="224.10" x2="545.60" y2="224.10" stroke="#333" stroke-width="0.6"/>
<line x1="543.60" y1="256.70" x2="545.60" y2="256.70" stroke="#333" stroke-width="0.6"/>
<line x1="543.60" y1="289.10" x2="545.60" y2="289.10" stroke="#333" stroke-width="0.6"/>
<text transform="translate(525.60,243.80) rotate(-90)" font-size="7.4" fill="#333" text-anchor="middle" textLength="97.80" lengthAdjust="spacingAndGlyphs">Relative induction (Δ z-score)</text>
<text transform="translate(535.00,244.20) rotate(-90)" font-size="7.4" fill="#333" text-anchor="middle" textLength="49.70" lengthAdjust="spacingAndGlyphs">Trained/Naieve</text>
<text x="550.80" y="321.10" font-size="9.4" fill="#333" text-anchor="middle">0</text>
<text x="573.30" y="321.10" font-size="9.4" fill="#333" text-anchor="middle">5</text>
<text x="595.90" y="321.10" font-size="9.4" fill="#333" text-anchor="middle">10</text>
<text x="618.60" y="321.10" font-size="9.4" fill="#333" text-anchor="middle">15</text>
<text x="640.50" y="321.10" font-size="9.4" fill="#333" text-anchor="middle">20</text>
<text x="664.20" y="321.10" font-size="9.4" fill="#333" text-anchor="middle">25</text>
<text x="571.10" y="329.30" font-size="7.5" fill="#333" textLength="88.70" lengthAdjust="spacingAndGlyphs">Hours After Training Onset</text>
<text x="669.00" y="307.40" font-size="7.6" fill="#222" text-anchor="end">n=423</text>
<line x1="545.60" y1="257.10" x2="674.80" y2="257.10" stroke="#333" stroke-width="0.7" stroke-dasharray="1.4 1.2"/>
<text x="650.10" y="202.80" font-size="8.2" fill="#222" text-anchor="end">MB</text>
<line x1="650.90" y1="200.00" x2="665.30" y2="200.00" stroke="#f5924a" stroke-width="1.1"/>
<text x="650.10" y="211.00" font-size="8.2" fill="#222" text-anchor="end">WH</text>
<line x1="650.90" y1="208.20" x2="665.30" y2="208.20" stroke="#111" stroke-width="1.1"/>
<text x="650.10" y="219.50" font-size="8.2" fill="#222" text-anchor="end">N</text>
<line x1="650.90" y1="216.70" x2="665.30" y2="216.70" stroke="#222" stroke-width="0.7" stroke-dasharray="1 0.8"/>
<polyline points="555.20,215.20 566.50,242.30 581.90,237.40 586.60,237.40 600.30,251.60 613.70,250.10 640.60,252.30 667.60,249.10" fill="none" stroke="#f5924a" stroke-width="0.9"/>
<polyline points="555.20,212.70 566.50,237.00 581.90,246.30 586.60,246.30 600.30,257.10 613.70,257.10 640.60,256.10 667.60,254.40" fill="none" stroke="#111" stroke-width="0.9"/>
<line x1="555.20" y1="212.20" x2="555.20" y2="218.20" stroke="#111" stroke-width="0.6"/>
<line x1="554.40" y1="212.20" x2="556.00" y2="212.20" stroke="#111" stroke-width="0.5"/>
<line x1="554.40" y1="218.20" x2="556.00" y2="218.20" stroke="#111" stroke-width="0.5"/>
<rect x="554.30" y="214.30" width="1.80" height="1.80" fill="#111"/>
<line x1="566.50" y1="240.80" x2="566.50" y2="243.80" stroke="#111" stroke-width="0.6"/>
<line x1="565.70" y1="240.80" x2="567.30" y2="240.80" stroke="#111" stroke-width="0.5"/>
<line x1="565.70" y1="243.80" x2="567.30" y2="243.80" stroke="#111" stroke-width="0.5"/>
<rect x="565.60" y="241.40" width="1.80" height="1.80" fill="#111"/>
<line x1="581.90" y1="235.90" x2="581.90" y2="238.90" stroke="#111" stroke-width="0.6"/>
<line x1="581.10" y1="235.90" x2="582.70" y2="235.90" stroke="#111" stroke-width="0.5"/>
<line x1="581.10" y1="238.90" x2="582.70" y2="238.90" stroke="#111" stroke-width="0.5"/>
<rect x="581.00" y="236.50" width="1.80" height="1.80" fill="#111"/>
<line x1="586.60" y1="235.90" x2="586.60" y2="238.90" stroke="#111" stroke-width="0.6"/>
<line x1="585.80" y1="235.90" x2="587.40" y2="235.90" stroke="#111" stroke-width="0.5"/>
<line x1="585.80" y1="238.90" x2="587.40" y2="238.90" stroke="#111" stroke-width="0.5"/>
<rect x="585.70" y="236.50" width="1.80" height="1.80" fill="#111"/>
<line x1="600.30" y1="250.30" x2="600.30" y2="252.90" stroke="#111" stroke-width="0.6"/>
<line x1="599.50" y1="250.30" x2="601.10" y2="250.30" stroke="#111" stroke-width="0.5"/>
<line x1="599.50" y1="252.90" x2="601.10" y2="252.90" stroke="#111" stroke-width="0.5"/>
<rect x="599.40" y="250.70" width="1.80" height="1.80" fill="#111"/>
<line x1="613.70" y1="248.60" x2="613.70" y2="251.60" stroke="#111" stroke-width="0.6"/>
<line x1="612.90" y1="248.60" x2="614.50" y2="248.60" stroke="#111" stroke-width="0.5"/>
<line x1="612.90" y1="251.60" x2="614.50" y2="251.60" stroke="#111" stroke-width="0.5"/>
<rect x="612.80" y="249.20" width="1.80" height="1.80" fill="#111"/>
<line x1="640.60" y1="250.80" x2="640.60" y2="253.80" stroke="#111" stroke-width="0.6"/>
<line x1="639.80" y1="250.80" x2="641.40" y2="250.80" stroke="#111" stroke-width="0.5"/>
<line x1="639.80" y1="253.80" x2="641.40" y2="253.80" stroke="#111" stroke-width="0.5"/>
<rect x="639.70" y="251.40" width="1.80" height="1.80" fill="#111"/>
<line x1="667.60" y1="247.80" x2="667.60" y2="250.40" stroke="#111" stroke-width="0.6"/>
<line x1="666.80" y1="247.80" x2="668.40" y2="247.80" stroke="#111" stroke-width="0.5"/>
<line x1="666.80" y1="250.40" x2="668.40" y2="250.40" stroke="#111" stroke-width="0.5"/>
<rect x="666.70" y="248.20" width="1.80" height="1.80" fill="#111"/>
<line x1="555.20" y1="209.70" x2="555.20" y2="215.70" stroke="#111" stroke-width="0.6"/>
<line x1="554.40" y1="209.70" x2="556.00" y2="209.70" stroke="#111" stroke-width="0.5"/>
<line x1="554.40" y1="215.70" x2="556.00" y2="215.70" stroke="#111" stroke-width="0.5"/>
<rect x="554.30" y="211.80" width="1.80" height="1.80" fill="#111"/>
<line x1="566.50" y1="235.50" x2="566.50" y2="238.50" stroke="#111" stroke-width="0.6"/>
<line x1="565.70" y1="235.50" x2="567.30" y2="235.50" stroke="#111" stroke-width="0.5"/>
<line x1="565.70" y1="238.50" x2="567.30" y2="238.50" stroke="#111" stroke-width="0.5"/>
<rect x="565.60" y="236.10" width="1.80" height="1.80" fill="#111"/>
<line x1="581.90" y1="244.80" x2="581.90" y2="247.80" stroke="#111" stroke-width="0.6"/>
<line x1="581.10" y1="244.80" x2="582.70" y2="244.80" stroke="#111" stroke-width="0.5"/>
<line x1="581.10" y1="247.80" x2="582.70" y2="247.80" stroke="#111" stroke-width="0.5"/>
<rect x="581.00" y="245.40" width="1.80" height="1.80" fill="#111"/>
<line x1="586.60" y1="244.80" x2="586.60" y2="247.80" stroke="#111" stroke-width="0.6"/>
<line x1="585.80" y1="244.80" x2="587.40" y2="244.80" stroke="#111" stroke-width="0.5"/>
<line x1="585.80" y1="247.80" x2="587.40" y2="247.80" stroke="#111" stroke-width="0.5"/>
<rect x="585.70" y="245.40" width="1.80" height="1.80" fill="#111"/>
<line x1="600.30" y1="255.80" x2="600.30" y2="258.40" stroke="#111" stroke-width="0.6"/>
<line x1="599.50" y1="255.80" x2="601.10" y2="255.80" stroke="#111" stroke-width="0.5"/>
<line x1="599.50" y1="258.40" x2="601.10" y2="258.40" stroke="#111" stroke-width="0.5"/>
<rect x="599.40" y="256.20" width="1.80" height="1.80" fill="#111"/>
<line x1="613.70" y1="255.80" x2="613.70" y2="258.40" stroke="#111" stroke-width="0.6"/>
<line x1="612.90" y1="255.80" x2="614.50" y2="255.80" stroke="#111" stroke-width="0.5"/>
<line x1="612.90" y1="258.40" x2="614.50" y2="258.40" stroke="#111" stroke-width="0.5"/>
<rect x="612.80" y="256.20" width="1.80" height="1.80" fill="#111"/>
<line x1="640.60" y1="254.60" x2="640.60" y2="257.60" stroke="#111" stroke-width="0.6"/>
<line x1="639.80" y1="254.60" x2="641.40" y2="254.60" stroke="#111" stroke-width="0.5"/>
<line x1="639.80" y1="257.60" x2="641.40" y2="257.60" stroke="#111" stroke-width="0.5"/>
<rect x="639.70" y="255.20" width="1.80" height="1.80" fill="#111"/>
<line x1="667.60" y1="253.10" x2="667.60" y2="255.70" stroke="#111" stroke-width="0.6"/>
<line x1="666.80" y1="253.10" x2="668.40" y2="253.10" stroke="#111" stroke-width="0.5"/>
<line x1="666.80" y1="255.70" x2="668.40" y2="255.70" stroke="#111" stroke-width="0.5"/>
<rect x="666.70" y="253.50" width="1.80" height="1.80" fill="#111"/>
<use href="#star" x="582.00" y="226.90"/>
<use href="#star" x="587.00" y="226.90"/>
<use href="#star" x="600.30" y="243.20"/>
<use href="#star" x="613.70" y="243.20"/>
<use href="#star" x="640.60" y="244.90"/>
<use href="#star" x="667.60" y="243.20"/>
<rect x="385.90" y="386.00" width="34.10" height="131.20" fill="#ecf7e8"/>
<text x="385.90" y="355.20" font-size="10.2" font-weight="bold" textLength="127.20" lengthAdjust="spacingAndGlyphs">GO:BP actin cytoskeleton</text>
<text x="420.40" y="367.20" font-size="10.2" font-weight="bold" textLength="61.30" lengthAdjust="spacingAndGlyphs">organization</text>
<text x="388.40" y="382.20" font-size="8.6" textLength="27.60" lengthAdjust="spacingAndGlyphs">Training</text>
<line x1="421.60" y1="376.20" x2="421.60" y2="383.00" stroke="#231f20" stroke-width="0.7"/>
<line x1="421.60" y1="379.60" x2="453.10" y2="379.60" stroke="#231f20" stroke-width="0.7"/>
<path d="M452.10,378.00 L456.10,379.60 L452.10,381.20 Z" fill="#231f20"/>
<text x="465.10" y="382.20" font-size="8.6" textLength="43.40" lengthAdjust="spacingAndGlyphs">Post-training</text>
<line x1="381.70" y1="384.50" x2="381.70" y2="517.70" stroke="#6a6a6a" stroke-width="1.0"/>
<line x1="381.70" y1="517.20" x2="513.50" y2="517.20" stroke="#6a6a6a" stroke-width="1.0"/>
<rect x="381.50" y="514.70" width="10.10" height="2.80" fill="#0a0a0a"/>
<rect x="452.50" y="514.70" width="55.90" height="2.80" fill="#0a0a0a"/>
<text x="374.50" y="428.40" font-size="10.2" fill="#333" text-anchor="middle">1</text>
<text x="374.50" y="462.40" font-size="10.2" fill="#333" text-anchor="middle">0</text>
<text x="372.50" y="496.60" font-size="10.2" fill="#333" text-anchor="middle">−1</text>
<line x1="379.70" y1="425.00" x2="381.70" y2="425.00" stroke="#333" stroke-width="0.6"/>
<line x1="379.70" y1="459.00" x2="381.70" y2="459.00" stroke="#333" stroke-width="0.6"/>
<line x1="379.70" y1="493.20" x2="381.70" y2="493.20" stroke="#333" stroke-width="0.6"/>
<text transform="translate(360.80,455.60) rotate(-90)" font-size="7.4" fill="#333" text-anchor="middle" textLength="98.40" lengthAdjust="spacingAndGlyphs">Relative induction (Δ z-score)</text>
<text transform="translate(369.80,455.50) rotate(-90)" font-size="7.4" fill="#333" text-anchor="middle" textLength="50.00" lengthAdjust="spacingAndGlyphs">Trained/Naieve</text>
<text x="385.80" y="526.20" font-size="8.8" fill="#333" text-anchor="middle">0</text>
<text x="409.90" y="526.20" font-size="8.8" fill="#333" text-anchor="middle">5</text>
<text x="432.60" y="526.20" font-size="8.8" fill="#333" text-anchor="middle">10</text>
<text x="457.40" y="526.20" font-size="8.8" fill="#333" text-anchor="middle">15</text>
<text x="480.20" y="526.20" font-size="8.8" fill="#333" text-anchor="middle">20</text>
<text x="504.80" y="526.20" font-size="8.8" fill="#333" text-anchor="middle">25</text>
<text x="398.40" y="538.30" font-size="8.6" fill="#333" textLength="102.80" lengthAdjust="spacingAndGlyphs">Hours After Training Onset</text>
<text x="507.20" y="512.50" font-size="7.6" fill="#222" text-anchor="end">n=42</text>
<line x1="380.00" y1="450.30" x2="513.00" y2="450.30" stroke="#333" stroke-width="0.7" stroke-dasharray="1.4 1.2"/>
<text x="489.90" y="403.30" font-size="8.2" fill="#222" text-anchor="end">MB</text>
<line x1="490.70" y1="400.50" x2="507.90" y2="400.50" stroke="#f5924a" stroke-width="1.1"/>
<text x="489.90" y="411.20" font-size="8.2" fill="#222" text-anchor="end">WH</text>
<line x1="490.70" y1="408.40" x2="507.90" y2="408.40" stroke="#111" stroke-width="1.1"/>
<text x="489.90" y="419.30" font-size="8.2" fill="#222" text-anchor="end">N</text>
<line x1="490.70" y1="416.50" x2="507.90" y2="416.50" stroke="#222" stroke-width="0.7" stroke-dasharray="1 0.8"/>
<polyline points="392.30,405.80 403.90,441.90 419.50,426.00 424.80,426.30 438.60,445.10 452.50,445.00 479.80,447.40 507.50,442.10" fill="none" stroke="#f5924a" stroke-width="0.9"/>
<polyline points="392.30,421.60 403.90,444.50 419.50,442.80 424.80,446.80 438.60,452.00 452.50,450.30 479.80,448.60 507.50,448.60" fill="none" stroke="#111" stroke-width="0.9"/>
<line x1="392.30" y1="401.30" x2="392.30" y2="410.30" stroke="#111" stroke-width="0.6"/>
<line x1="391.50" y1="401.30" x2="393.10" y2="401.30" stroke="#111" stroke-width="0.5"/>
<line x1="391.50" y1="410.30" x2="393.10" y2="410.30" stroke="#111" stroke-width="0.5"/>
<rect x="391.40" y="404.90" width="1.80" height="1.80" fill="#111"/>
<line x1="403.90" y1="439.90" x2="403.90" y2="443.90" stroke="#111" stroke-width="0.6"/>
<line x1="403.10" y1="439.90" x2="404.70" y2="439.90" stroke="#111" stroke-width="0.5"/>
<line x1="403.10" y1="443.90" x2="404.70" y2="443.90" stroke="#111" stroke-width="0.5"/>
<rect x="403.00" y="441.00" width="1.80" height="1.80" fill="#111"/>
<line x1="419.50" y1="422.00" x2="419.50" y2="430.00" stroke="#111" stroke-width="0.6"/>
<line x1="418.70" y1="422.00" x2="420.30" y2="422.00" stroke="#111" stroke-width="0.5"/>
<line x1="418.70" y1="430.00" x2="420.30" y2="430.00" stroke="#111" stroke-width="0.5"/>
<rect x="418.60" y="425.10" width="1.80" height="1.80" fill="#111"/>
<line x1="424.80" y1="421.30" x2="424.80" y2="431.30" stroke="#111" stroke-width="0.6"/>
<line x1="424.00" y1="421.30" x2="425.60" y2="421.30" stroke="#111" stroke-width="0.5"/>
<line x1="424.00" y1="431.30" x2="425.60" y2="431.30" stroke="#111" stroke-width="0.5"/>
<rect x="423.90" y="425.40" width="1.80" height="1.80" fill="#111"/>
<line x1="438.60" y1="443.10" x2="438.60" y2="447.10" stroke="#111" stroke-width="0.6"/>
<line x1="437.80" y1="443.10" x2="439.40" y2="443.10" stroke="#111" stroke-width="0.5"/>
<line x1="437.80" y1="447.10" x2="439.40" y2="447.10" stroke="#111" stroke-width="0.5"/>
<rect x="437.70" y="444.20" width="1.80" height="1.80" fill="#111"/>
<line x1="452.50" y1="441.00" x2="452.50" y2="449.00" stroke="#111" stroke-width="0.6"/>
<line x1="451.70" y1="441.00" x2="453.30" y2="441.00" stroke="#111" stroke-width="0.5"/>
<line x1="451.70" y1="449.00" x2="453.30" y2="449.00" stroke="#111" stroke-width="0.5"/>
<rect x="451.60" y="444.10" width="1.80" height="1.80" fill="#111"/>
<line x1="479.80" y1="444.40" x2="479.80" y2="450.40" stroke="#111" stroke-width="0.6"/>
<line x1="479.00" y1="444.40" x2="480.60" y2="444.40" stroke="#111" stroke-width="0.5"/>
<line x1="479.00" y1="450.40" x2="480.60" y2="450.40" stroke="#111" stroke-width="0.5"/>
<rect x="478.90" y="446.50" width="1.80" height="1.80" fill="#111"/>
<line x1="507.50" y1="439.10" x2="507.50" y2="445.10" stroke="#111" stroke-width="0.6"/>
<line x1="506.70" y1="439.10" x2="508.30" y2="439.10" stroke="#111" stroke-width="0.5"/>
<line x1="506.70" y1="445.10" x2="508.30" y2="445.10" stroke="#111" stroke-width="0.5"/>
<rect x="506.60" y="441.20" width="1.80" height="1.80" fill="#111"/>
<line x1="392.30" y1="418.20" x2="392.30" y2="425.00" stroke="#111" stroke-width="0.6"/>
<line x1="391.50" y1="418.20" x2="393.10" y2="418.20" stroke="#111" stroke-width="0.5"/>
<line x1="391.50" y1="425.00" x2="393.10" y2="425.00" stroke="#111" stroke-width="0.5"/>
<rect x="391.40" y="420.70" width="1.80" height="1.80" fill="#111"/>
<line x1="403.90" y1="440.20" x2="403.90" y2="448.80" stroke="#111" stroke-width="0.6"/>
<line x1="403.10" y1="440.20" x2="404.70" y2="440.20" stroke="#111" stroke-width="0.5"/>
<line x1="403.10" y1="448.80" x2="404.70" y2="448.80" stroke="#111" stroke-width="0.5"/>
<rect x="403.00" y="443.60" width="1.80" height="1.80" fill="#111"/>
<line x1="419.50" y1="440.30" x2="419.50" y2="445.30" stroke="#111" stroke-width="0.6"/>
<line x1="418.70" y1="440.30" x2="420.30" y2="440.30" stroke="#111" stroke-width="0.5"/>
<line x1="418.70" y1="445.30" x2="420.30" y2="445.30" stroke="#111" stroke-width="0.5"/>
<rect x="418.60" y="441.90" width="1.80" height="1.80" fill="#111"/>
<line x1="424.80" y1="442.50" x2="424.80" y2="451.10" stroke="#111" stroke-width="0.6"/>
<line x1="424.00" y1="442.50" x2="425.60" y2="442.50" stroke="#111" stroke-width="0.5"/>
<line x1="424.00" y1="451.10" x2="425.60" y2="451.10" stroke="#111" stroke-width="0.5"/>
<rect x="423.90" y="445.90" width="1.80" height="1.80" fill="#111"/>
<line x1="438.60" y1="447.50" x2="438.60" y2="456.50" stroke="#111" stroke-width="0.6"/>
<line x1="437.80" y1="447.50" x2="439.40" y2="447.50" stroke="#111" stroke-width="0.5"/>
<line x1="437.80" y1="456.50" x2="439.40" y2="456.50" stroke="#111" stroke-width="0.5"/>
<rect x="437.70" y="451.10" width="1.80" height="1.80" fill="#111"/>
<line x1="452.50" y1="445.30" x2="452.50" y2="455.30" stroke="#111" stroke-width="0.6"/>
<line x1="451.70" y1="445.30" x2="453.30" y2="445.30" stroke="#111" stroke-width="0.5"/>
<line x1="451.70" y1="455.30" x2="453.30" y2="455.30" stroke="#111" stroke-width="0.5"/>
<rect x="451.60" y="449.40" width="1.80" height="1.80" fill="#111"/>
<line x1="479.80" y1="446.60" x2="479.80" y2="450.60" stroke="#111" stroke-width="0.6"/>
<line x1="479.00" y1="446.60" x2="480.60" y2="446.60" stroke="#111" stroke-width="0.5"/>
<line x1="479.00" y1="450.60" x2="480.60" y2="450.60" stroke="#111" stroke-width="0.5"/>
<rect x="478.90" y="447.70" width="1.80" height="1.80" fill="#111"/>
<line x1="507.50" y1="446.60" x2="507.50" y2="450.60" stroke="#111" stroke-width="0.6"/>
<line x1="506.70" y1="446.60" x2="508.30" y2="446.60" stroke="#111" stroke-width="0.5"/>
<line x1="506.70" y1="450.60" x2="508.30" y2="450.60" stroke="#111" stroke-width="0.5"/>
<rect x="506.60" y="447.70" width="1.80" height="1.80" fill="#111"/>
<use href="#star" x="419.50" y="416.60"/>
<use href="#star" x="424.80" y="416.60"/>
<rect x="556.30" y="386.50" width="33.90" height="131.00" fill="#ecf7e8"/>
<text x="555.50" y="361.00" font-size="10.2" font-weight="bold" textLength="128.70" lengthAdjust="spacingAndGlyphs">GO:BP aerobic respiration</text>
<text x="559.10" y="383.40" font-size="8.6" textLength="27.50" lengthAdjust="spacingAndGlyphs">Training</text>
<line x1="591.20" y1="377.40" x2="591.20" y2="384.20" stroke="#231f20" stroke-width="0.7"/>
<line x1="591.20" y1="380.80" x2="623.20" y2="380.80" stroke="#231f20" stroke-width="0.7"/>
<path d="M622.20,379.20 L626.20,380.80 L622.20,382.40 Z" fill="#231f20"/>
<text x="634.70" y="383.40" font-size="8.6" textLength="44.40" lengthAdjust="spacingAndGlyphs">Post-training</text>
<line x1="551.50" y1="385.00" x2="551.50" y2="518.00" stroke="#6a6a6a" stroke-width="1.0"/>
<line x1="551.50" y1="517.50" x2="683.10" y2="517.50" stroke="#6a6a6a" stroke-width="1.0"/>
<rect x="550.80" y="515.00" width="10.20" height="2.80" fill="#0a0a0a"/>
<rect x="622.40" y="515.00" width="55.80" height="2.80" fill="#0a0a0a"/>
<text x="545.70" y="428.20" font-size="10.2" fill="#333" text-anchor="middle">1</text>
<text x="545.70" y="463.40" font-size="10.2" fill="#333" text-anchor="middle">0</text>
<text x="542.30" y="497.00" font-size="10.2" fill="#333" text-anchor="middle">−1</text>
<line x1="549.50" y1="424.80" x2="551.50" y2="424.80" stroke="#333" stroke-width="0.6"/>
<line x1="549.50" y1="460.00" x2="551.50" y2="460.00" stroke="#333" stroke-width="0.6"/>
<line x1="549.50" y1="493.60" x2="551.50" y2="493.60" stroke="#333" stroke-width="0.6"/>
<text transform="translate(530.80,454.40) rotate(-90)" font-size="7.4" fill="#333" text-anchor="middle" textLength="97.70" lengthAdjust="spacingAndGlyphs">Relative induction (Δ z-score)</text>
<text transform="translate(540.20,454.10) rotate(-90)" font-size="7.4" fill="#333" text-anchor="middle" textLength="50.00" lengthAdjust="spacingAndGlyphs">Trained/Naieve</text>
<text x="556.10" y="526.20" font-size="8.8" fill="#333" text-anchor="middle">0</text>
<text x="579.70" y="526.20" font-size="8.8" fill="#333" text-anchor="middle">5</text>
<text x="603.10" y="526.20" font-size="8.8" fill="#333" text-anchor="middle">10</text>
<text x="627.20" y="526.20" font-size="8.8" fill="#333" text-anchor="middle">15</text>
<text x="650.10" y="526.20" font-size="8.8" fill="#333" text-anchor="middle">20</text>
<text x="674.10" y="526.20" font-size="8.8" fill="#333" text-anchor="middle">25</text>
<text x="571.30" y="538.30" font-size="8.6" fill="#333" textLength="102.80" lengthAdjust="spacingAndGlyphs">Hours After Training Onset</text>
<text x="678.20" y="512.50" font-size="7.6" fill="#222" text-anchor="end">n=22</text>
<line x1="548.00" y1="451.50" x2="683.00" y2="451.50" stroke="#333" stroke-width="0.7" stroke-dasharray="1.4 1.2"/>
<text x="656.10" y="403.30" font-size="8.2" fill="#222" text-anchor="end">MB</text>
<line x1="656.90" y1="400.50" x2="677.80" y2="400.50" stroke="#f5924a" stroke-width="1.1"/>
<text x="656.10" y="411.30" font-size="8.2" fill="#222" text-anchor="end">WH</text>
<line x1="656.90" y1="408.50" x2="677.80" y2="408.50" stroke="#111" stroke-width="1.1"/>
<text x="656.10" y="419.10" font-size="8.2" fill="#222" text-anchor="end">N</text>
<line x1="656.90" y1="416.30" x2="677.80" y2="416.30" stroke="#222" stroke-width="0.7" stroke-dasharray="1 0.8"/>
<polyline points="562.10,420.20 573.50,446.60 589.80,439.90 594.20,450.70 607.90,452.80 621.60,458.30 649.60,444.50 677.30,434.20" fill="none" stroke="#f5924a" stroke-width="0.9"/>
<polyline points="562.10,425.30 573.50,454.60 589.80,469.00 594.20,469.00 607.90,473.00 621.60,476.30 649.60,462.60 677.30,455.90" fill="none" stroke="#111" stroke-width="0.9"/>
<line x1="562.10" y1="415.20" x2="562.10" y2="425.20" stroke="#111" stroke-width="0.6"/>
<line x1="561.30" y1="415.20" x2="562.90" y2="415.20" stroke="#111" stroke-width="0.5"/>
<line x1="561.30" y1="425.20" x2="562.90" y2="425.20" stroke="#111" stroke-width="0.5"/>
<rect x="561.20" y="419.30" width="1.80" height="1.80" fill="#111"/>
<line x1="573.50" y1="442.30" x2="573.50" y2="450.90" stroke="#111" stroke-width="0.6"/>
<line x1="572.70" y1="442.30" x2="574.30" y2="442.30" stroke="#111" stroke-width="0.5"/>
<line x1="572.70" y1="450.90" x2="574.30" y2="450.90" stroke="#111" stroke-width="0.5"/>
<rect x="572.60" y="445.70" width="1.80" height="1.80" fill="#111"/>
<line x1="589.80" y1="434.70" x2="589.80" y2="445.10" stroke="#111" stroke-width="0.6"/>
<line x1="589.00" y1="434.70" x2="590.60" y2="434.70" stroke="#111" stroke-width="0.5"/>
<line x1="589.00" y1="445.10" x2="590.60" y2="445.10" stroke="#111" stroke-width="0.5"/>
<rect x="588.90" y="439.00" width="1.80" height="1.80" fill="#111"/>
<line x1="594.20" y1="446.40" x2="594.20" y2="455.00" stroke="#111" stroke-width="0.6"/>
<line x1="593.40" y1="446.40" x2="595.00" y2="446.40" stroke="#111" stroke-width="0.5"/>
<line x1="593.40" y1="455.00" x2="595.00" y2="455.00" stroke="#111" stroke-width="0.5"/>
<rect x="593.30" y="449.80" width="1.80" height="1.80" fill="#111"/>
<line x1="607.90" y1="449.50" x2="607.90" y2="456.10" stroke="#111" stroke-width="0.6"/>
<line x1="607.10" y1="449.50" x2="608.70" y2="449.50" stroke="#111" stroke-width="0.5"/>
<line x1="607.10" y1="456.10" x2="608.70" y2="456.10" stroke="#111" stroke-width="0.5"/>
<rect x="607.00" y="451.90" width="1.80" height="1.80" fill="#111"/>
<line x1="621.60" y1="454.30" x2="621.60" y2="462.30" stroke="#111" stroke-width="0.6"/>
<line x1="620.80" y1="454.30" x2="622.40" y2="454.30" stroke="#111" stroke-width="0.5"/>
<line x1="620.80" y1="462.30" x2="622.40" y2="462.30" stroke="#111" stroke-width="0.5"/>
<rect x="620.70" y="457.40" width="1.80" height="1.80" fill="#111"/>
<line x1="649.60" y1="439.50" x2="649.60" y2="449.50" stroke="#111" stroke-width="0.6"/>
<line x1="648.80" y1="439.50" x2="650.40" y2="439.50" stroke="#111" stroke-width="0.5"/>
<line x1="648.80" y1="449.50" x2="650.40" y2="449.50" stroke="#111" stroke-width="0.5"/>
<rect x="648.70" y="443.60" width="1.80" height="1.80" fill="#111"/>
<line x1="677.30" y1="431.20" x2="677.30" y2="437.20" stroke="#111" stroke-width="0.6"/>
<line x1="676.50" y1="431.20" x2="678.10" y2="431.20" stroke="#111" stroke-width="0.5"/>
<line x1="676.50" y1="437.20" x2="678.10" y2="437.20" stroke="#111" stroke-width="0.5"/>
<rect x="676.40" y="433.30" width="1.80" height="1.80" fill="#111"/>
<line x1="562.10" y1="420.80" x2="562.10" y2="429.80" stroke="#111" stroke-width="0.6"/>
<line x1="561.30" y1="420.80" x2="562.90" y2="420.80" stroke="#111" stroke-width="0.5"/>
<line x1="561.30" y1="429.80" x2="562.90" y2="429.80" stroke="#111" stroke-width="0.5"/>
<rect x="561.20" y="424.40" width="1.80" height="1.80" fill="#111"/>
<line x1="573.50" y1="447.70" x2="573.50" y2="461.50" stroke="#111" stroke-width="0.6"/>
<line x1="572.70" y1="447.70" x2="574.30" y2="447.70" stroke="#111" stroke-width="0.5"/>
<line x1="572.70" y1="461.50" x2="574.30" y2="461.50" stroke="#111" stroke-width="0.5"/>
<rect x="572.60" y="453.70" width="1.80" height="1.80" fill="#111"/>
<line x1="589.80" y1="463.80" x2="589.80" y2="474.20" stroke="#111" stroke-width="0.6"/>
<line x1="589.00" y1="463.80" x2="590.60" y2="463.80" stroke="#111" stroke-width="0.5"/>
<line x1="589.00" y1="474.20" x2="590.60" y2="474.20" stroke="#111" stroke-width="0.5"/>
<rect x="588.90" y="468.10" width="1.80" height="1.80" fill="#111"/>
<line x1="594.20" y1="462.10" x2="594.20" y2="475.90" stroke="#111" stroke-width="0.6"/>
<line x1="593.40" y1="462.10" x2="595.00" y2="462.10" stroke="#111" stroke-width="0.5"/>
<line x1="593.40" y1="475.90" x2="595.00" y2="475.90" stroke="#111" stroke-width="0.5"/>
<rect x="593.30" y="468.10" width="1.80" height="1.80" fill="#111"/>
<line x1="607.90" y1="467.80" x2="607.90" y2="478.20" stroke="#111" stroke-width="0.6"/>
<line x1="607.10" y1="467.80" x2="608.70" y2="467.80" stroke="#111" stroke-width="0.5"/>
<line x1="607.10" y1="478.20" x2="608.70" y2="478.20" stroke="#111" stroke-width="0.5"/>
<rect x="607.00" y="472.10" width="1.80" height="1.80" fill="#111"/>
<line x1="621.60" y1="471.30" x2="621.60" y2="481.30" stroke="#111" stroke-width="0.6"/>
<line x1="620.80" y1="471.30" x2="622.40" y2="471.30" stroke="#111" stroke-width="0.5"/>
<line x1="620.80" y1="481.30" x2="622.40" y2="481.30" stroke="#111" stroke-width="0.5"/>
<rect x="620.70" y="475.40" width="1.80" height="1.80" fill="#111"/>
<line x1="649.60" y1="455.60" x2="649.60" y2="469.60" stroke="#111" stroke-width="0.6"/>
<line x1="648.80" y1="455.60" x2="650.40" y2="455.60" stroke="#111" stroke-width="0.5"/>
<line x1="648.80" y1="469.60" x2="650.40" y2="469.60" stroke="#111" stroke-width="0.5"/>
<rect x="648.70" y="461.70" width="1.80" height="1.80" fill="#111"/>
<line x1="677.30" y1="449.90" x2="677.30" y2="461.90" stroke="#111" stroke-width="0.6"/>
<line x1="676.50" y1="449.90" x2="678.10" y2="449.90" stroke="#111" stroke-width="0.5"/>
<line x1="676.50" y1="461.90" x2="678.10" y2="461.90" stroke="#111" stroke-width="0.5"/>
<rect x="676.40" y="455.00" width="1.80" height="1.80" fill="#111"/>
<use href="#star" x="589.80" y="430.60"/>
<use href="#star" x="594.20" y="442.10"/>
<use href="#star" x="607.90" y="443.80"/>
<use href="#star" x="621.60" y="449.80"/>
<use href="#star" x="649.60" y="434.20"/>
<use href="#star" x="677.30" y="423.40"/>
<text x="-0.48" y="357.90" font-size="18.7" fill="#111">E</text>
<rect x="18.30" y="362.90" width="10.30" height="10.08" fill="#8db6de"/>
<rect x="28.60" y="362.90" width="10.30" height="10.08" fill="#d9d9d9"/>
<rect x="18.30" y="372.98" width="10.30" height="10.08" fill="#a0dbe3"/>
<rect x="28.60" y="372.98" width="10.30" height="10.08" fill="#d9d9d9"/>
<rect x="18.30" y="383.06" width="10.30" height="10.08" fill="#5b79cb"/>
<rect x="28.60" y="383.06" width="10.30" height="10.08" fill="#d9d9d9"/>
<rect x="18.30" y="393.14" width="10.30" height="10.08" fill="#4458be"/>
<rect x="28.60" y="393.14" width="10.30" height="10.08" fill="#d9d9d9"/>
<rect x="18.30" y="403.22" width="10.30" height="10.08" fill="#8cbadf"/>
<rect x="28.60" y="403.22" width="10.30" height="10.08" fill="#d9d9d9"/>
<line x1="18.30" y1="362.90" x2="38.90" y2="362.90" stroke="#5a5a5a" stroke-width="0.75"/>
<line x1="18.30" y1="372.98" x2="38.90" y2="372.98" stroke="#5a5a5a" stroke-width="0.75"/>
<line x1="18.30" y1="383.06" x2="38.90" y2="383.06" stroke="#5a5a5a" stroke-width="0.75"/>
<line x1="18.30" y1="393.14" x2="38.90" y2="393.14" stroke="#5a5a5a" stroke-width="0.75"/>
<line x1="18.30" y1="403.22" x2="38.90" y2="403.22" stroke="#5a5a5a" stroke-width="0.75"/>
<line x1="18.30" y1="413.30" x2="38.90" y2="413.30" stroke="#5a5a5a" stroke-width="0.75"/>
<line x1="18.30" y1="362.90" x2="18.30" y2="413.30" stroke="#5a5a5a" stroke-width="0.75"/>
<line x1="28.60" y1="362.90" x2="28.60" y2="413.30" stroke="#5a5a5a" stroke-width="0.75"/>
<line x1="38.90" y1="362.90" x2="38.90" y2="413.30" stroke="#5a5a5a" stroke-width="0.75"/>
<text x="41.00" y="370.80" font-size="8.4">actomyosin structure organization</text>
<text x="41.00" y="380.88" font-size="8.4">actin cytoskeleton</text>
<text x="41.00" y="390.96" font-size="8.4">actin binding</text>
<text x="41.00" y="401.04" font-size="8.4">actin cytoskeleton organization</text>
<text x="41.00" y="411.12" font-size="8.4">cell projection morphogenesis</text>
<rect x="18.30" y="416.50" width="10.30" height="10.08" fill="#90c4dc"/>
<rect x="28.60" y="416.50" width="10.30" height="10.08" fill="#d9d9d9"/>
<rect x="18.30" y="426.58" width="10.30" height="10.08" fill="#8cbedc"/>
<rect x="28.60" y="426.58" width="10.30" height="10.08" fill="#d9d9d9"/>
<rect x="18.30" y="436.66" width="10.30" height="10.08" fill="#98d2e0"/>
<rect x="28.60" y="436.66" width="10.30" height="10.08" fill="#d9d9d9"/>
<rect x="18.30" y="446.74" width="10.30" height="10.08" fill="#a0dbe3"/>
<rect x="28.60" y="446.74" width="10.30" height="10.08" fill="#d9d9d9"/>
<line x1="18.30" y1="416.50" x2="38.90" y2="416.50" stroke="#5a5a5a" stroke-width="0.75"/>
<line x1="18.30" y1="426.58" x2="38.90" y2="426.58" stroke="#5a5a5a" stroke-width="0.75"/>
<line x1="18.30" y1="436.66" x2="38.90" y2="436.66" stroke="#5a5a5a" stroke-width="0.75"/>
<line x1="18.30" y1="446.74" x2="38.90" y2="446.74" stroke="#5a5a5a" stroke-width="0.75"/>
<line x1="18.30" y1="456.82" x2="38.90" y2="456.82" stroke="#5a5a5a" stroke-width="0.75"/>
<line x1="18.30" y1="416.50" x2="18.30" y2="456.82" stroke="#5a5a5a" stroke-width="0.75"/>
<line x1="28.60" y1="416.50" x2="28.60" y2="456.82" stroke="#5a5a5a" stroke-width="0.75"/>
<line x1="38.90" y1="416.50" x2="38.90" y2="456.82" stroke="#5a5a5a" stroke-width="0.75"/>
<text x="41.00" y="424.40" font-size="8.4">neuron projection morphogenesis</text>
<text x="41.00" y="434.48" font-size="8.4">neuron development</text>
<text x="41.00" y="444.56" font-size="8.4">neurogenesis</text>
<text x="41.00" y="454.64" font-size="8.4">nervous system development</text>
<rect x="18.30" y="459.40" width="10.30" height="10.08" fill="#8db6de"/>
<rect x="28.60" y="459.40" width="10.30" height="10.08" fill="#d9d9d9"/>
<rect x="18.30" y="469.48" width="10.30" height="10.08" fill="#6a84d2"/>
<rect x="28.60" y="469.48" width="10.30" height="10.08" fill="#6a84d2"/>
<rect x="18.30" y="479.56" width="10.30" height="10.08" fill="#8db6de"/>
<rect x="28.60" y="479.56" width="10.30" height="10.08" fill="#d9d9d9"/>
<rect x="18.30" y="489.64" width="10.30" height="10.08" fill="#4458be"/>
<rect x="28.60" y="489.64" width="10.30" height="10.08" fill="#86aadc"/>
<rect x="18.30" y="499.72" width="10.30" height="10.08" fill="#a0dbe3"/>
<rect x="28.60" y="499.72" width="10.30" height="10.08" fill="#d9d9d9"/>
<line x1="18.30" y1="459.40" x2="38.90" y2="459.40" stroke="#5a5a5a" stroke-width="0.75"/>
<line x1="18.30" y1="469.48" x2="38.90" y2="469.48" stroke="#5a5a5a" stroke-width="0.75"/>
<line x1="18.30" y1="479.56" x2="38.90" y2="479.56" stroke="#5a5a5a" stroke-width="0.75"/>
<line x1="18.30" y1="489.64" x2="38.90" y2="489.64" stroke="#5a5a5a" stroke-width="0.75"/>
<line x1="18.30" y1="499.72" x2="38.90" y2="499.72" stroke="#5a5a5a" stroke-width="0.75"/>
<line x1="18.30" y1="509.80" x2="38.90" y2="509.80" stroke="#5a5a5a" stroke-width="0.75"/>
<line x1="18.30" y1="459.40" x2="18.30" y2="509.80" stroke="#5a5a5a" stroke-width="0.75"/>
<line x1="28.60" y1="459.40" x2="28.60" y2="509.80" stroke="#5a5a5a" stroke-width="0.75"/>
<line x1="38.90" y1="459.40" x2="38.90" y2="509.80" stroke="#5a5a5a" stroke-width="0.75"/>
<text x="41.00" y="467.30" font-size="8.4">response to endogenous stimulus</text>
<text x="41.00" y="477.38" font-size="8.4">response to external stimulus</text>
<text x="41.00" y="487.46" font-size="8.4">signal transduction</text>
<text x="41.00" y="497.54" font-size="8.4">signaling</text>
<text x="41.00" y="507.62" font-size="8.4">cellular response to stimulus</text>
<rect x="192.30" y="362.90" width="10.20" height="10.08" fill="#7b9bdc"/>
<rect x="202.50" y="362.90" width="10.20" height="10.08" fill="#d9d9d9"/>
<rect x="192.30" y="372.98" width="10.20" height="10.08" fill="#7b9bdc"/>
<rect x="202.50" y="372.98" width="10.20" height="10.08" fill="#d9d9d9"/>
<rect x="192.30" y="383.06" width="10.20" height="10.08" fill="#a0dbe3"/>
<rect x="202.50" y="383.06" width="10.20" height="10.08" fill="#d9d9d9"/>
<rect x="192.30" y="393.14" width="10.20" height="10.08" fill="#a0dbe3"/>
<rect x="202.50" y="393.14" width="10.20" height="10.08" fill="#d9d9d9"/>
<rect x="192.30" y="403.22" width="10.20" height="10.08" fill="#8db6de"/>
<rect x="202.50" y="403.22" width="10.20" height="10.08" fill="#d9d9d9"/>
<rect x="192.30" y="413.30" width="10.20" height="10.08" fill="#a0dbe3"/>
<rect x="202.50" y="413.30" width="10.20" height="10.08" fill="#d9d9d9"/>
<rect x="192.30" y="423.38" width="10.20" height="10.08" fill="#2a3a8c"/>
<rect x="202.50" y="423.38" width="10.20" height="10.08" fill="#d9d9d9"/>
<rect x="192.30" y="433.46" width="10.20" height="10.08" fill="#2a3a8c"/>
<rect x="202.50" y="433.46" width="10.20" height="10.08" fill="#d9d9d9"/>
<line x1="192.30" y1="362.90" x2="212.70" y2="362.90" stroke="#5a5a5a" stroke-width="0.75"/>
<line x1="192.30" y1="372.98" x2="212.70" y2="372.98" stroke="#5a5a5a" stroke-width="0.75"/>
<line x1="192.30" y1="383.06" x2="212.70" y2="383.06" stroke="#5a5a5a" stroke-width="0.75"/>
<line x1="192.30" y1="393.14" x2="212.70" y2="393.14" stroke="#5a5a5a" stroke-width="0.75"/>
<line x1="192.30" y1="403.22" x2="212.70" y2="403.22" stroke="#5a5a5a" stroke-width="0.75"/>
<line x1="192.30" y1="413.30" x2="212.70" y2="413.30" stroke="#5a5a5a" stroke-width="0.75"/>
<line x1="192.30" y1="423.38" x2="212.70" y2="423.38" stroke="#5a5a5a" stroke-width="0.75"/>
<line x1="192.30" y1="433.46" x2="212.70" y2="433.46" stroke="#5a5a5a" stroke-width="0.75"/>
<line x1="192.30" y1="443.54" x2="212.70" y2="443.54" stroke="#5a5a5a" stroke-width="0.75"/>
<line x1="192.30" y1="362.90" x2="192.30" y2="443.54" stroke="#5a5a5a" stroke-width="0.75"/>
<line x1="202.50" y1="362.90" x2="202.50" y2="443.54" stroke="#5a5a5a" stroke-width="0.75"/>
<line x1="212.70" y1="362.90" x2="212.70" y2="443.54" stroke="#5a5a5a" stroke-width="0.75"/>
<text x="215.20" y="370.80" font-size="8.4">NAD metabolic process</text>
<text x="215.20" y="380.88" font-size="8.4">citrate cycle (TCA cycle)</text>
<text x="215.20" y="390.96" font-size="8.4">aerobic respiration</text>
<text x="215.20" y="401.04" font-size="8.4">fatty acid metabolic process</text>
<text x="215.20" y="411.12" font-size="8.4">cellular respiration</text>
<text x="215.20" y="421.20" font-size="8.4">lipid metabolic process</text>
<text x="215.20" y="431.28" font-size="8.4">transmembrane transporter activity</text>
<text x="215.20" y="441.36" font-size="8.4">small molecule metabolic process</text>
<rect x="192.30" y="446.60" width="10.20" height="10.08" fill="#d9d9d9"/>
<rect x="202.50" y="446.60" width="10.20" height="10.08" fill="#8ab6dc"/>
<rect x="192.30" y="456.68" width="10.20" height="10.08" fill="#d9d9d9"/>
<rect x="202.50" y="456.68" width="10.20" height="10.08" fill="#6a84d2"/>
<rect x="192.30" y="466.76" width="10.20" height="10.08" fill="#d9d9d9"/>
<rect x="202.50" y="466.76" width="10.20" height="10.08" fill="#2a3a8c"/>
<rect x="192.30" y="476.84" width="10.20" height="10.08" fill="#d9d9d9"/>
<rect x="202.50" y="476.84" width="10.20" height="10.08" fill="#2a3a8c"/>
<rect x="192.30" y="486.92" width="10.20" height="10.08" fill="#d9d9d9"/>
<rect x="202.50" y="486.92" width="10.20" height="10.08" fill="#2a3a8c"/>
<rect x="192.30" y="497.00" width="10.20" height="10.08" fill="#d9d9d9"/>
<rect x="202.50" y="497.00" width="10.20" height="10.08" fill="#88acdc"/>
<line x1="192.30" y1="446.60" x2="212.70" y2="446.60" stroke="#5a5a5a" stroke-width="0.75"/>
<line x1="192.30" y1="456.68" x2="212.70" y2="456.68" stroke="#5a5a5a" stroke-width="0.75"/>
<line x1="192.30" y1="466.76" x2="212.70" y2="466.76" stroke="#5a5a5a" stroke-width="0.75"/>
<line x1="192.30" y1="476.84" x2="212.70" y2="476.84" stroke="#5a5a5a" stroke-width="0.75"/>
<line x1="192.30" y1="486.92" x2="212.70" y2="486.92" stroke="#5a5a5a" stroke-width="0.75"/>
<line x1="192.30" y1="497.00" x2="212.70" y2="497.00" stroke="#5a5a5a" stroke-width="0.75"/>
<line x1="192.30" y1="507.08" x2="212.70" y2="507.08" stroke="#5a5a5a" stroke-width="0.75"/>
<line x1="192.30" y1="446.60" x2="192.30" y2="507.08" stroke="#5a5a5a" stroke-width="0.75"/>
<line x1="202.50" y1="446.60" x2="202.50" y2="507.08" stroke="#5a5a5a" stroke-width="0.75"/>
<line x1="212.70" y1="446.60" x2="212.70" y2="507.08" stroke="#5a5a5a" stroke-width="0.75"/>
<text x="215.20" y="454.50" font-size="8.4">cytoplasmic translation</text>
<text x="215.20" y="464.58" font-size="8.4">ribosome</text>
<text x="215.20" y="474.66" font-size="8.4">mRNA binding</text>
<text x="215.20" y="484.74" font-size="8.4">ribosome biogenesis</text>
<text x="215.20" y="494.82" font-size="8.4">translation</text>
<text x="215.20" y="504.90" font-size="8.4">protein transport</text>
<text transform="translate(6.60,416.70) rotate(-90)" font-size="8.6" font-weight="bold" text-anchor="middle" textLength="56.70" lengthAdjust="spacingAndGlyphs">Cell structure</text>
<text transform="translate(6.90,485.10) rotate(-90)" font-size="8.6" font-weight="bold" text-anchor="middle" textLength="38.00" lengthAdjust="spacingAndGlyphs">Signaling</text>
<text transform="translate(180.40,386.80) rotate(-90)" font-size="8.6" font-weight="bold" text-anchor="middle" textLength="46.20" lengthAdjust="spacingAndGlyphs">Metabolism</text>
<text transform="translate(180.60,476.40) rotate(-90)" font-size="8.6" font-weight="bold" text-anchor="middle" textLength="46.20" lengthAdjust="spacingAndGlyphs">Translation</text>
<text transform="translate(26.30,511.60) rotate(-90)" font-size="9.3" font-weight="bold" text-anchor="end" textLength="54.00" lengthAdjust="spacingAndGlyphs">MB + MBWH</text>
<text transform="translate(36.70,511.60) rotate(-90)" font-size="9.3" font-weight="bold" text-anchor="end">WH</text>
<text transform="translate(200.30,509.40) rotate(-90)" font-size="9.3" font-weight="bold" text-anchor="end" textLength="54.00" lengthAdjust="spacingAndGlyphs">MB + MBWH</text>
<text transform="translate(210.50,509.40) rotate(-90)" font-size="9.3" font-weight="bold" text-anchor="end">WH</text>
<text x="233.10" y="529.90" font-size="8.4" font-weight="bold" textLength="64.30" lengthAdjust="spacingAndGlyphs">-Log10 (p-value)</text>
<linearGradient id="cb" x1="0" x2="1" y1="0" y2="0"><stop offset="0" stop-color="#b0e0ee"/><stop offset="0.35" stop-color="#7b9bdc"/><stop offset="0.7" stop-color="#3a4aa6"/><stop offset="1" stop-color="#26307e"/></linearGradient>
<rect x="237.60" y="537.30" width="52.90" height="8.20" fill="url(#cb)" stroke="#667" stroke-width="0.4"/>
<text x="238.80" y="554.50" font-size="9.0" font-weight="bold" text-anchor="middle">1.3</text>
<text x="264.00" y="554.50" font-size="9.0" font-weight="bold" text-anchor="middle">3</text>
<text x="290.30" y="554.50" font-size="9.0" font-weight="bold" text-anchor="middle">5</text>
<rect x="232.30" y="561.40" width="8.60" height="8.60" fill="#d9d9d9" stroke="#555" stroke-width="0.5"/>
<text x="245.40" y="568.70" font-size="8.4" font-weight="bold" textLength="57.30" lengthAdjust="spacingAndGlyphs">Not significant</text>
</svg></body></html>
